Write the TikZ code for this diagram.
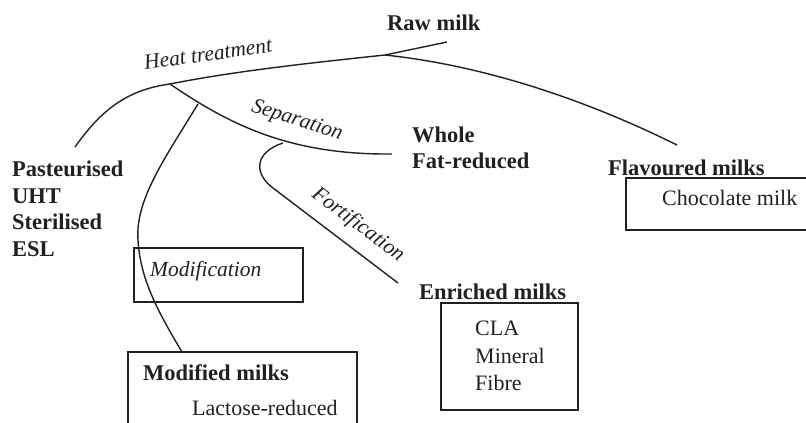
\documentclass[tikz,border=0pt]{standalone}
\usepackage{fontspec}
\setmainfont{Liberation Serif}
\definecolor{ink}{HTML}{231F20}
\begin{document}
\begin{tikzpicture}[x=1pt,y=-1pt,
  lbl/.style={anchor=base west, inner sep=0pt, text=ink, font=\fontsize{22}{26}\selectfont},
  bold/.style={lbl, font=\bfseries\fontsize{22.5}{26}\selectfont},
  ital/.style={inner sep=0pt, text=ink, font=\itshape\fontsize{21.5}{26}\selectfont},
  branch/.style={draw=ink, line width=1.4pt},
  boxline/.style={draw=ink, line width=1.2pt}]
\useasboundingbox (0,0) rectangle (806,423);
\clip (0,0) rectangle (806,423);

% text nodes
\node[bold] (raw) at (387,30) {Raw milk};
\node[bold] (past) at (12,176) {Pasteurised};
\node[bold] (uht) at (12,203) {UHT};
\node[bold] (ster) at (12,229) {Sterilised};
\node[bold] (esl) at (12,256) {ESL};
\node[bold] (whole) at (412,142) {Whole};
\node[bold] (fatred) at (412,168) {Fat-reduced};
\node[bold] (flav) at (608,175) {Flavoured milks};
\node[lbl] (choc) at (662,205) {Chocolate milk};
\node[bold] (enr) at (419,299) {Enriched milks};
\node[lbl] (cla) at (475,335) {CLA};
\node[lbl] (min) at (475,363) {Mineral};
\node[lbl] (fib) at (475,390) {Fibre};
\node[bold] (modm) at (143,380) {Modified milks};
\node[lbl] (lact) at (192,415) {Lactose-reduced};
\node[lbl, font=\itshape\fontsize{21.5}{26}\selectfont] (modif) at (150,276) {Modification};

% rotated process labels
\node[ital, rotate=8] (heat) at (208,54) {Heat treatment};
\node[ital, rotate=-18] (sep) at (297,121) {Separation};
\node[ital, rotate=-37] (fort) at (358,225) {Fortification};

% boxes
\draw[boxline] (134,248) rectangle (303,302);
\draw[boxline] (128,352) rectangle (357,440);
\draw[boxline] (441,303) rectangle (578,410);
\draw[boxline] (626,178) rectangle (830,230);

% junction coordinates
\coordinate (rawend) at (447,42);
\coordinate (j1) at (385,55);
\coordinate (j2) at (170,84);
\coordinate (pastend) at (75,147);
\coordinate (flavend) at (677,145);
\coordinate (sepend) at (392,154);
\coordinate (jmod) at (198,104);
\coordinate (jfort) at (283,143);
\coordinate (fortend) at (398,283);
\coordinate (modend) at (182,352);

% branches
\draw[branch] (rawend) -- (j1) .. controls (300,64) and (230,72) .. (j2)
  .. controls (125,90) and (100,112) .. (pastend);
\draw[branch] (j1) .. controls (470,64) and (570,92) .. (flavend);
\draw[branch] (j2) .. controls (230,125) and (290,155) .. (sepend);
\draw[branch] (jfort) .. controls (255,152) and (253,173) .. (273,188) -- (fortend);
\draw[branch] (jmod) .. controls (165,158) and (135,200) .. (138,240)
  .. controls (140,280) and (160,315) .. (modend);
\end{tikzpicture}
\end{document}
